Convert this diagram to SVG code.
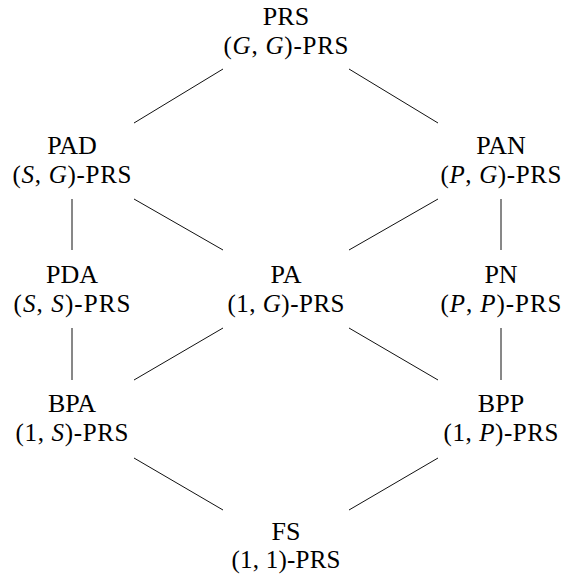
<svg xmlns="http://www.w3.org/2000/svg" width="565" height="579" viewBox="0 0 565 579">
  <style>
    text { font-family: "Liberation Serif", "Times New Roman", serif; font-size: 25px; fill: #000; text-anchor: middle; }
    .name { font-size: 26px; }
    .v { font-style: italic; }
    .edge { stroke: #111; stroke-width: 1; fill: none; }
  </style>
  <rect width="565" height="579" fill="#fff"/>

  <!-- connectors of the Hasse diagram -->
  <g id="edges">
    <line class="edge" x1="223" y1="69" x2="134" y2="123"/>
    <line class="edge" x1="349" y1="69" x2="438" y2="123"/>
    <line class="edge" x1="72" y1="199" x2="72" y2="250"/>
    <line class="edge" x1="134" y1="199" x2="223" y2="250"/>
    <line class="edge" x1="438" y1="199" x2="349" y2="250"/>
    <line class="edge" x1="501" y1="199" x2="501" y2="250"/>
    <line class="edge" x1="72" y1="328" x2="72" y2="380"/>
    <line class="edge" x1="223" y1="328" x2="134" y2="380"/>
    <line class="edge" x1="349" y1="328" x2="438" y2="380"/>
    <line class="edge" x1="501" y1="328" x2="501" y2="380"/>
    <line class="edge" x1="134" y1="458" x2="223" y2="510"/>
    <line class="edge" x1="438" y1="458" x2="349" y2="510"/>
  </g>

  <g id="node-prs">
    <text class="name" x="286" y="25">PRS</text>
    <text x="286" y="54" textLength="125" lengthAdjust="spacing">(<tspan class="v">G</tspan>, <tspan class="v">G</tspan>)-PRS</text>
  </g>

  <g id="node-pad">
    <text class="name" x="72" y="154">PAD</text>
    <text x="72" y="183" textLength="119" lengthAdjust="spacing">(<tspan class="v">S</tspan>, <tspan class="v">G</tspan>)-PRS</text>
  </g>

  <g id="node-pan">
    <text class="name" x="501" y="154">PAN</text>
    <text x="501" y="183" textLength="121" lengthAdjust="spacing">(<tspan class="v">P</tspan>, <tspan class="v">G</tspan>)-PRS</text>
  </g>

  <g id="node-pda">
    <text class="name" x="72" y="283">PDA</text>
    <text x="72" y="312" textLength="117" lengthAdjust="spacing">(<tspan class="v">S</tspan>, <tspan class="v">S</tspan>)-PRS</text>
  </g>

  <g id="node-pa">
    <text class="name" x="286" y="283">PA</text>
    <text x="286" y="312" textLength="117" lengthAdjust="spacing">(1, <tspan class="v">G</tspan>)-PRS</text>
  </g>

  <g id="node-pn">
    <text class="name" x="501" y="283">PN</text>
    <text x="501" y="312" textLength="121" lengthAdjust="spacing">(<tspan class="v">P</tspan>, <tspan class="v">P</tspan>)-PRS</text>
  </g>

  <g id="node-bpa">
    <text class="name" x="72" y="412">BPA</text>
    <text x="72" y="441" textLength="113" lengthAdjust="spacing">(1, <tspan class="v">S</tspan>)-PRS</text>
  </g>

  <g id="node-bpp">
    <text class="name" x="501" y="412">BPP</text>
    <text x="501" y="441" textLength="115" lengthAdjust="spacing">(1, <tspan class="v">P</tspan>)-PRS</text>
  </g>

  <g id="node-fs">
    <text class="name" x="286" y="540">FS</text>
    <text x="286" y="568" textLength="109" lengthAdjust="spacing">(1, 1)-PRS</text>
  </g>
</svg>
